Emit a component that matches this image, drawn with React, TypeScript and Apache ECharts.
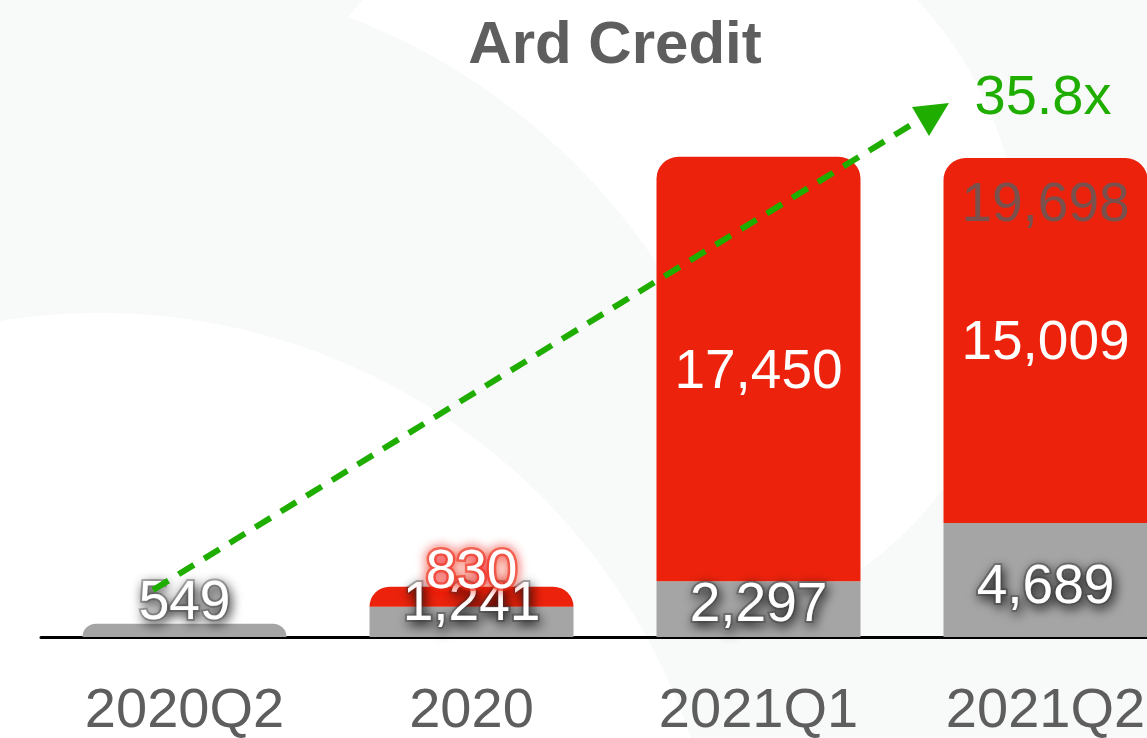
import React, { useEffect, useRef } from "react";
import * as echarts from "echarts";

const titleText = "Ard Credit";
const categories = ["2020Q2", "2020", "2021Q1", "2021Q2"];
const baseValues = [549, 1241, 2297, 4689];
const addedValues = [0, 830, 17450, 15009];
const totalValues: (number | null)[] = [null, null, null, 19698];
const growthLabel = "35.8x";

// label placement (px, relative to each bar segment's top)
const baseLabelDy = [-24, -6, 21, 61];
const addedLabelDy: (number | null)[] = [null, -18, null, null];

const GRAY = "#a5a5a5";
const RED = "#ec220c";
const GREEN = "#1fae00";
const TEXT = "#5e5e5e";
const FONT = "'Liberation Sans', Arial, Helvetica, sans-serif";

const fmt = (v: number) => v.toLocaleString("en-US");

export default function App() {
  const ref = useRef<HTMLDivElement>(null);
  useEffect(() => {
    document.body.style.margin = "0";
    if (!ref.current) return;
    const chart = echarts.init(ref.current, null, { renderer: "svg" });

    const baseData = baseValues.map((v, i) => ({
      value: v,
      itemStyle: {
        borderRadius: addedValues[i] === 0 ? [14, 14, 0, 0] : 0,
      },
      label: {
        position: ["50%", baseLabelDy[i]],
      },
    }));

    const addedData = addedValues.map((v, i) => {
      const dy = addedLabelDy[i];
      return {
        value: v,
        itemStyle: { borderRadius: [22, 22, 0, 0] },
        label:
          v === 0
            ? { show: false }
            : dy === null
            ? { show: true, position: "inside" }
            : {
                show: true,
                position: ["50%", dy],
                textBorderColor: "rgba(236,34,12,0.55)",
                textBorderWidth: 5,
                textShadowColor: "rgba(236,20,10,1)",
                textShadowBlur: 12,
                textShadowOffsetX: 0,
                textShadowOffsetY: 0,
              },
      };
    });

    chart.setOption({
      animation: false,
      backgroundColor: "#f8f9f9",
      grid: {
        left: 41,
        width: 1148,
        top: 102,
        bottom: 101,
        outerBoundsMode: "none",
        containLabel: false,
      },
      xAxis: {
        type: "category",
        data: categories,
        axisLine: { lineStyle: { color: "#000", width: 3 } },
        axisTick: { show: false },
        axisLabel: {
          color: TEXT,
          fontSize: 56,
          fontFamily: FONT,
          margin: 42,
        },
      },
      yAxis: {
        type: "value",
        min: 0,
        max: 22000,
        show: false,
        splitLine: { show: false },
      },
      series: [
        {
          type: "bar",
          name: "base",
          stack: "total",
          barWidth: 204,
          clip: false,
          itemStyle: { color: GRAY },
          label: {
            show: true,
            formatter: (p: any) => fmt(p.value),
            color: "#ffffff",
            fontSize: 55,
            fontFamily: FONT,
            align: "center",
            verticalAlign: "middle",
            textBorderColor: "rgba(40,40,40,0.35)",
            textBorderWidth: 4,
            textShadowColor: "rgba(0,0,0,1)",
            textShadowBlur: 12,
            textShadowOffsetX: 2,
            textShadowOffsetY: 4,
          },
          data: baseData,
          z: 2,
        },
        {
          type: "bar",
          name: "added",
          stack: "total",
          barWidth: 204,
          clip: false,
          itemStyle: { color: RED },
          label: {
            show: true,
            formatter: (p: any) => fmt(p.value),
            color: "#ffffff",
            fontSize: 55,
            fontFamily: FONT,
            align: "center",
            verticalAlign: "middle",
          },
          data: addedData,
          z: 2,
        },
        {
          type: "scatter",
          name: "total",
          symbolSize: 0,
          clip: false,
          data: totalValues,
          label: {
            show: true,
            position: [0, 44],
            align: "center",
            verticalAlign: "middle",
            formatter: (p: any) => fmt(p.value),
            color: TEXT,
            fontSize: 55,
            fontFamily: FONT,
          },
          z: 5,
        },
      ],
      graphic: [
        {
          type: "circle",
          shape: { cx: 640, cy: 260, r: 380 },
          style: { fill: "#ffffff" },
          z: -10,
          silent: true,
        },
        {
          type: "circle",
          shape: { cx: 116, cy: 624, r: 650 },
          style: { fill: "#f8f9f9" },
          z: -9,
          silent: true,
        },
        {
          type: "circle",
          shape: { cx: 100, cy: 936, r: 623 },
          style: { fill: "#ffffff" },
          z: -8,
          silent: true,
        },
        {
          type: "text",
          x: 615,
          y: 42,
          z: 50,
          style: {
            text: titleText,
            fill: TEXT,
            font: `bold 60px ${FONT}`,
            align: "center",
            verticalAlign: "middle",
          },
        },
        {
          type: "line",
          z: 50,
          shape: { x1: 153, y1: 590, x2: 924, y2: 117 },
          style: { stroke: GREEN, lineWidth: 6, lineDash: [18, 12] },
        },
        {
          type: "polygon",
          z: 50,
          shape: { points: [[912, 107], [949, 103], [929, 136]] },
          style: { fill: GREEN },
        },
        {
          type: "text",
          x: 1043,
          y: 94,
          z: 50,
          style: {
            text: growthLabel,
            fill: GREEN,
            font: `56px ${FONT}`,
            align: "center",
            verticalAlign: "middle",
          },
        },
      ],
    });
    return () => chart.dispose();
  }, []);
  return <div ref={ref} style={{ width: 1147, height: 738 }} />;
}
